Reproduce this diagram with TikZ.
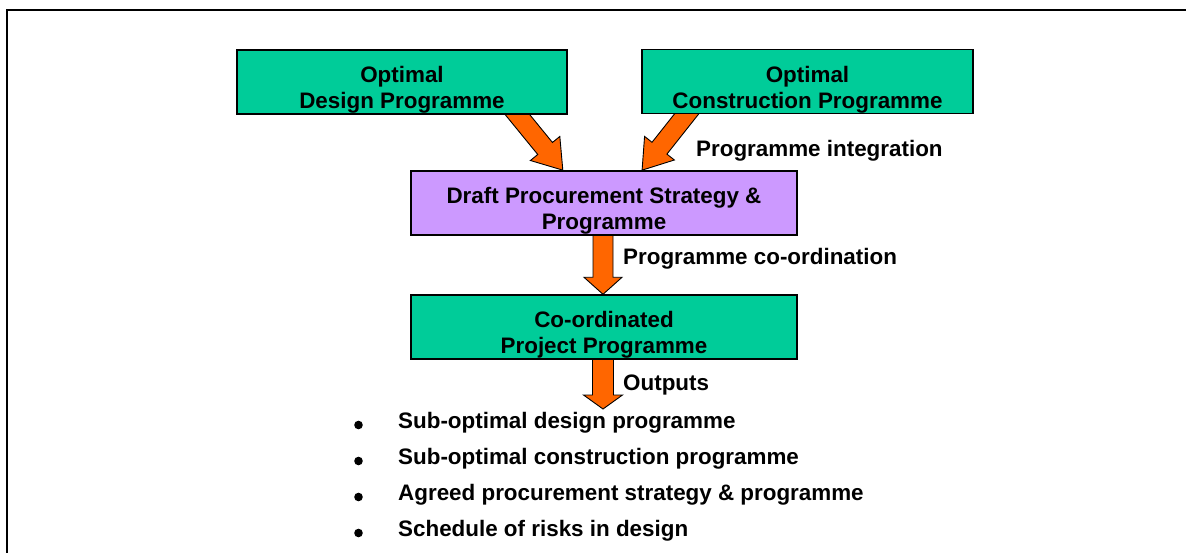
\documentclass[tikz,border=0pt]{standalone}
\usepackage{fontspec}
\setmainfont{Liberation Sans}
\usetikzlibrary{calc,backgrounds}
\definecolor{boxgreen}{HTML}{00CC99}
\definecolor{boxpurple}{HTML}{CC99FF}
\definecolor{arroworange}{HTML}{FF6600}
% #1 start, #2 tip, #3 shaft half width, #4 head half width, #5 head length
\newcommand{\blockarrow}[5]{%
  \path[barrow] let \p1=#1, \p2=#2,
      \n1={atan2(\y2-\y1,\x2-\x1)}, \n2={veclen(\x2-\x1,\y2-\y1)} in
    [shift={(\p1)}, rotate=\n1]
    (0pt,-#3pt) -- ({\n2-#5pt},-#3pt) -- ({\n2-#5pt},-#4pt) -- ({\n2+0pt},0pt)
    -- ({\n2-#5pt},#4pt) -- ({\n2-#5pt},#3pt) -- (0pt,#3pt) -- cycle;
}
\begin{document}
\begin{tikzpicture}[x=1pt,y=-1pt,
  every node/.style={font=\fontsize{22.4}{26}\selectfont\bfseries},
  box/.style={draw=black, line width=1.4pt, inner sep=0pt},
  greenbox/.style={box, fill=boxgreen},
  purplebox/.style={box, fill=boxpurple},
  boxtext/.style={align=center, inner sep=0pt},
  lbl/.style={anchor=base west, inner sep=0pt},
  barrow/.style={draw=black, line width=0.9pt, fill=arroworange, line join=miter},
  bulletdot/.style={circle, fill=black, inner sep=0pt, minimum size=8.6pt}]
\useasboundingbox (0,0) rectangle (1186,553);
% frame
\draw[line width=2pt] (7,560) -- (7,10) -- (1195,10);

% boxes
\node[greenbox, minimum width=330pt, minimum height=64pt] (b1) at (402,82) {};
\node[greenbox, minimum width=331pt, minimum height=64pt] (b2) at (807.5,81.5) {};
\node[purplebox, minimum width=386pt, minimum height=64pt] (b3) at (604,203) {};
\node[greenbox, minimum width=386pt, minimum height=64pt] (b4) at (604,327) {};

\node[boxtext] (t1) at ($(b1.center)+(0,8)$) {Optimal\\Design Programme};
\node[boxtext] (t2) at ($(b2.center)+(0,8)$) {Optimal\\Construction Programme};
\node[boxtext] (t3) at ($(b3.center)+(0,8)$) {Draft Procurement Strategy \&\\Programme};
\node[boxtext] (t4) at ($(b4.center)+(0,8)$) {Co-ordinated\\Project Programme};

% arrows (behind the boxes)
\coordinate (out) at (603,409);
\begin{scope}[on background layer]
\fill[white] (-10,-10) rectangle (1196,563);
\blockarrow{($(b1.south west)!0.814!(b1.south east)+(0,-14)$)}{($(b3.north west)!0.394!(b3.north east)$)}{9.5}{19}{28}
\blockarrow{($(b2.south west)!0.169!(b2.south east)+(0,-14)$)}{($(b3.north west)!0.598!(b3.north east)$)}{9.5}{19}{28}
\blockarrow{($(b3.south)+(-1,-10)$)}{($(b4.north)+(-1,0)$)}{10}{19}{17}
\blockarrow{($(b4.south)+(-1,-10)$)}{(out)}{10.5}{19.5}{14}
\end{scope}

% labels
\node[lbl] (l1) at (696,157) {Programme integration};
\node[lbl] (l2) at (623,265) {Programme co-ordination};
\node[lbl] (l3) at (623,390.5) {Outputs};

% bullet list
\node[bulletdot] (d1) at (358.5,425) {};
\node[bulletdot] (d2) at (358.5,461) {};
\node[bulletdot] (d3) at (358.5,497) {};
\node[bulletdot] (d4) at (358.5,533) {};
\node[lbl] (i1) at (398,428) {Sub-optimal design programme};
\node[lbl] (i2) at (398,464) {Sub-optimal construction programme};
\node[lbl] (i3) at (398,500) {Agreed procurement strategy \& programme};
\node[lbl] (i4) at (398,536) {Schedule of risks in design};
\end{tikzpicture}
\end{document}
